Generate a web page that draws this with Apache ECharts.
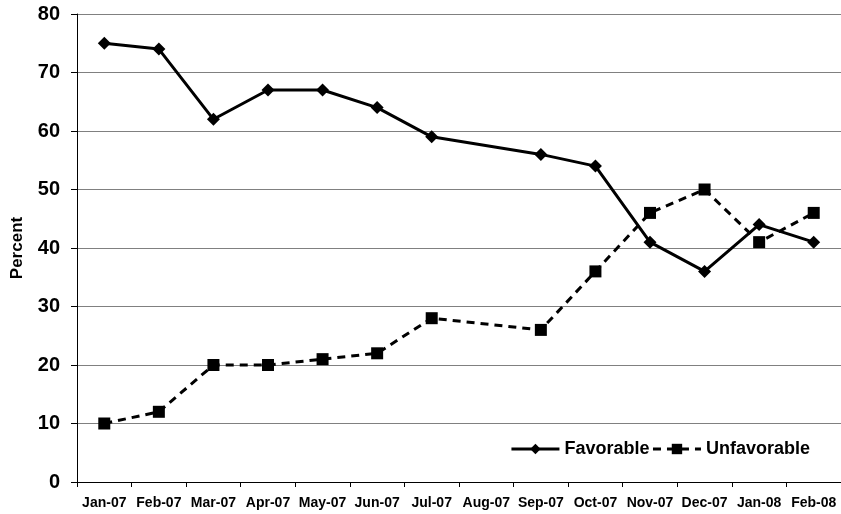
<!DOCTYPE html>
<html><head><meta charset="utf-8">
<script src="https://cdn.jsdelivr.net/npm/echarts@6/dist/echarts.min.js"></script>
<style>html,body{margin:0;padding:0;background:#fff}#c{width:841px;height:514px}</style>
</head><body><div id="c"></div>
<script>
const categories = ['Jan-07','Feb-07','Mar-07','Apr-07','May-07','Jun-07','Jul-07','Aug-07','Sep-07','Oct-07','Nov-07','Dec-07','Jan-08','Feb-08'];
const favorable = [75,74,62,67,67,64,59,null,56,54,41,36,44,41];
const unfavorable = [10,12,20,20,21,22,28,null,26,36,46,50,41,46];
const yTicks = [0,10,20,30,40,50,60,70,80];

const chart = echarts.init(document.getElementById('c'));
const font = 'Arial, "Liberation Sans", sans-serif';
chart.setOption({
  animation:false,
  backgroundColor:'#fff',
  grid:{left:77,right:-1,top:14,bottom:32},
  legend:{
    right:26,top:435,itemWidth:48,itemHeight:13,itemGap:2,
    lineStyle:{width:3},
    textStyle:{fontFamily:font,fontWeight:'bold',fontSize:18,color:'#000'},
    data:['Favorable','Unfavorable']
  },
  xAxis:{
    type:'category',data:categories,boundaryGap:true,
    axisLine:{lineStyle:{color:'#000',width:1}},
    axisTick:{show:true,length:5,lineStyle:{color:'#000'}},
    axisLabel:{interval:0,fontFamily:font,fontWeight:'bold',fontSize:14,color:'#000',margin:14}
  },
  yAxis:{
    type:'value',min:yTicks[0],max:yTicks[yTicks.length-1],interval:10,
    name:'Percent',nameLocation:'middle',nameGap:51,
    nameTextStyle:{fontFamily:font,fontWeight:'bold',fontSize:17,color:'#000'},
    axisLine:{show:true,lineStyle:{color:'#000',width:1}},
    axisTick:{show:true,length:6,lineStyle:{color:'#000'}},
    axisLabel:{fontFamily:font,fontWeight:'bold',fontSize:20,color:'#000',margin:17},
    splitLine:{show:true,lineStyle:{color:'#808080',width:1}}
  },
  series:[
    {name:'Favorable',type:'line',data:favorable,connectNulls:true,
     symbol:'diamond',symbolSize:[13,13],
     lineStyle:{color:'#000',width:3},itemStyle:{color:'#000'}},
    {name:'Unfavorable',type:'line',data:unfavorable,connectNulls:true,
     symbol:'rect',symbolSize:[12,12],
     lineStyle:{color:'#000',width:3,type:[8,6]},itemStyle:{color:'#000'}}
  ]
});
</script></body></html>
